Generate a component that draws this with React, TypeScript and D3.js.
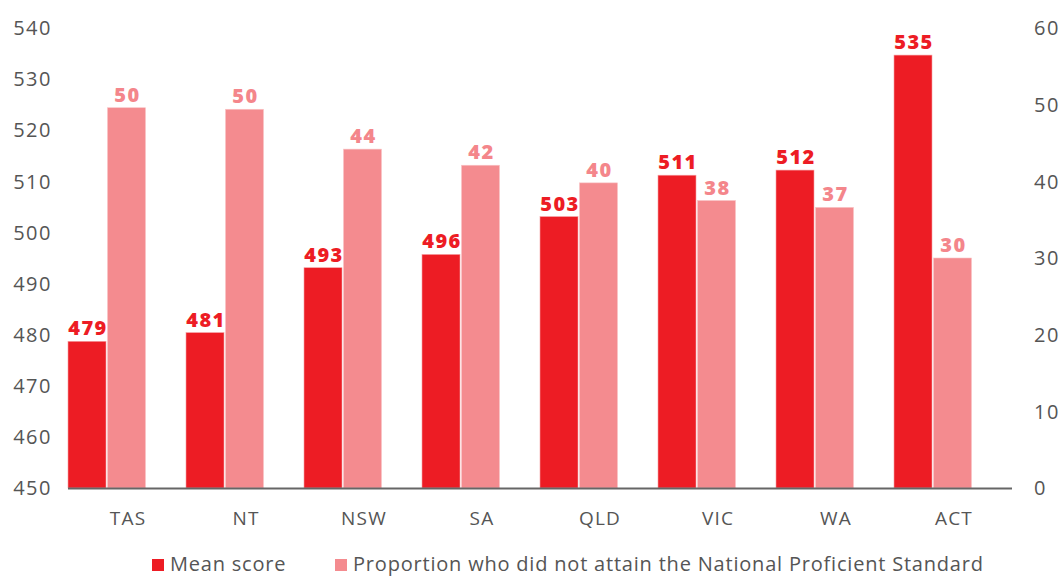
import React from "react";
import * as d3 from "d3";

const categories = ["TAS", "NT", "NSW", "SA", "QLD", "VIC", "WA", "ACT"];
const meanScore = [478.7, 480.4, 493.1, 495.7, 503.1, 511.2, 512.2, 534.7];
const meanLabels = ["479", "481", "493", "496", "503", "511", "512", "535"];
const proportion = [49.6, 49.4, 44.2, 42.1, 39.8, 37.5, 36.6, 30.0];
const propLabels = ["50", "50", "44", "42", "40", "38", "37", "30"];
const leftTicks = [450, 460, 470, 480, 490, 500, 510, 520, 530, 540];
const rightTicks = [0, 10, 20, 30, 40, 50, 60];
const seriesNames = ["Mean score", "Proportion who did not attain the National Proficient Standard"];

const W = 1064, H = 576;
const RED = "#ED1C24", PINK = "#F48B8F", PINK_TXT = "#F4868B", GRAY = "#555555";
const FONT = "'Open Sans', 'Noto Sans', sans-serif";

export default function App() {
  const x = d3.scaleBand<string>().domain(categories).range([68, 1012]).padding(0);
  const yL = d3.scaleLinear().domain([450, 540]).range([488, 28]);
  const yR = d3.scaleLinear().domain([0, 60]).range([488, 28]);
  const bw = 38, gap = 1.5;
  return (
    <svg width={W} height={H} style={{ position: "absolute", left: 0, top: 0, fontFamily: FONT }}>
      <rect width={W} height={H} fill="#fff" />
      {leftTicks.map((t) => (
        <text key={"l" + t} x={52} y={yL(t)} dy="0.36em" textAnchor="end" fontSize={20} letterSpacing={1.5} fill={GRAY}>{t}</text>
      ))}
      {rightTicks.map((t) => (
        <text key={"r" + t} x={1034} y={yR(t)} dy="0.36em" textAnchor="start" fontSize={20} letterSpacing={1.5} fill={GRAY}>{t}</text>
      ))}
      {categories.map((c, i) => {
        const x0 = x(c)!;
        const ym = yL(meanScore[i]);
        const yp = yR(proportion[i]);
        return (
          <g key={c}>
            <rect x={x0} y={ym} width={bw} height={488 - ym} fill={RED} stroke="#f6a0a3" strokeWidth={0.6} />
            <rect x={x0 + bw + gap} y={yp} width={bw} height={488 - yp} fill={PINK} stroke="#f9c3c5" strokeWidth={0.6} />
            <text x={x0 + bw / 2 + 1} y={ym - 6} textAnchor="middle" fontSize={20} fontWeight={800} letterSpacing={1.5} fill={RED}>{meanLabels[i]}</text>
            <text x={x0 + bw + gap + bw / 2 + 1} y={yp - 6} textAnchor="middle" fontSize={20} fontWeight={800} letterSpacing={1.5} fill={PINK_TXT}>{propLabels[i]}</text>
            <text x={x0 + x.bandwidth() / 2 + 1} y={525} textAnchor="middle" fontSize={19} letterSpacing={1.2} fill={GRAY}>{c}</text>
          </g>
        );
      })}
      <line x1={68} x2={1012} y1={488.5} y2={488.5} stroke="#666" strokeWidth={2} />
      <rect x={152} y={559} width={12} height={12} fill={RED} />
      <text x={170} y={571} fontSize={20} letterSpacing={0.8} fill={GRAY}>{seriesNames[0]}</text>
      <rect x={335} y={559} width={12} height={12} fill={PINK} />
      <text x={353} y={571} fontSize={20} letterSpacing={0.8} fill={GRAY}>{seriesNames[1]}</text>
    </svg>
  );
}
